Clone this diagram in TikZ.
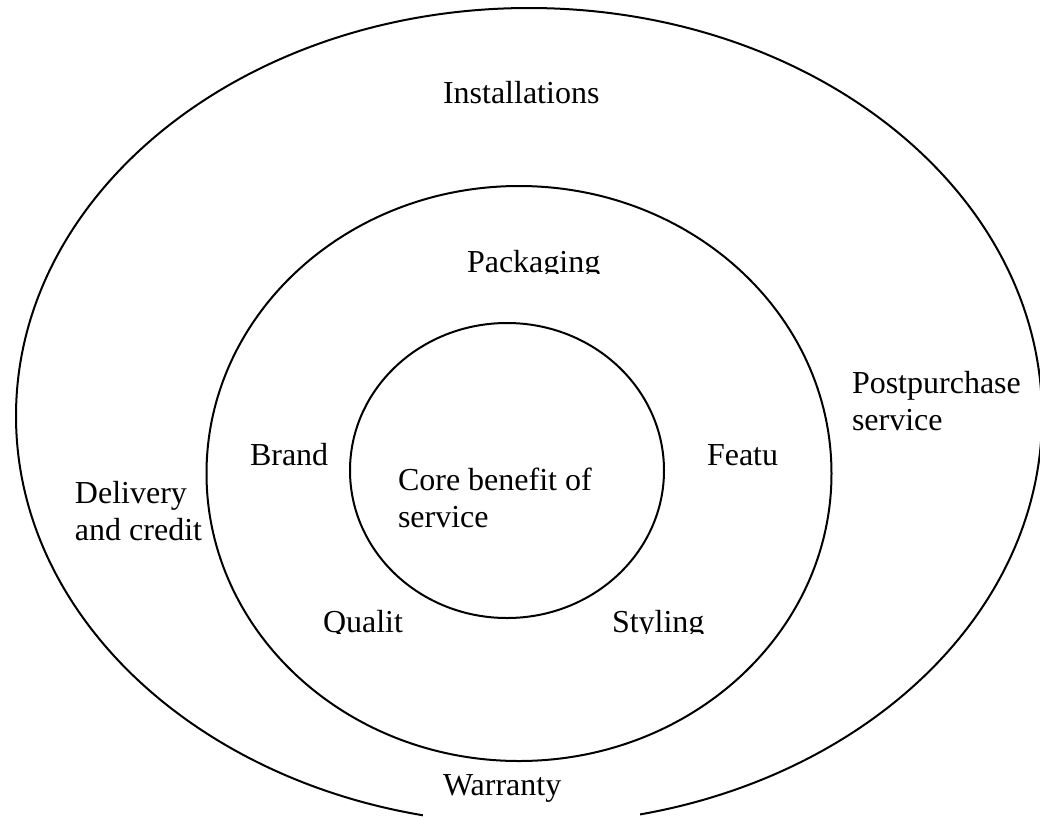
\documentclass[tikz,border=0pt]{standalone}
\usepackage{fontspec}
\setmainfont{Liberation Serif}
\usetikzlibrary{shapes.geometric}
\begin{document}
\begin{tikzpicture}[x=0.5pt,y=-0.5pt,
  ring/.style={draw, ellipse, line width=1pt, inner sep=0pt, outer sep=0pt},
  lbl/.style={anchor=base west, inner sep=0pt, outer sep=0pt, align=left, font=\fontsize{16}{18.5}\selectfont}]
\useasboundingbox (0,0) rectangle (1040,816);
\clip (0,0) rectangle (1040,816);
\node[ring, minimum width=513pt, minimum height=408pt] (outer) at (529,416) {};
\fill[white] (423,770) rectangle (640,830);
\node[ring, minimum width=312.5pt, minimum height=287.5pt] (middle) at (519,473.5) {};
\node[ring, minimum width=157pt, minimum height=147.5pt] (inner) at (507,470.5) {};
\node[lbl] (inst) at (443,103) {Installations};
\begin{scope}
  \clip (400,200) rectangle (700,273);
  \node[lbl] (pack) at (467,272) {Packaging};
\end{scope}
\node[lbl] (brand) at (250,465) {Brand};
\node[lbl] (feat) at (707,465) {Featu};
\node[lbl] (core) at (398,527) {Core benefit of\\service};
\node[lbl] (deliv) at (75,540) {Delivery\\and credit};
\node[lbl] (post) at (852,430) {Postpurchase\\service};
\begin{scope}
  \clip (250,560) rectangle (760,633);
  \node[lbl] (qual) at (323,632) {Qualit};
  \node[lbl] (styl) at (612,632) {Styling};
\end{scope}
\node[lbl] (warr) at (443,795) {Warranty};
\end{tikzpicture}
\end{document}
